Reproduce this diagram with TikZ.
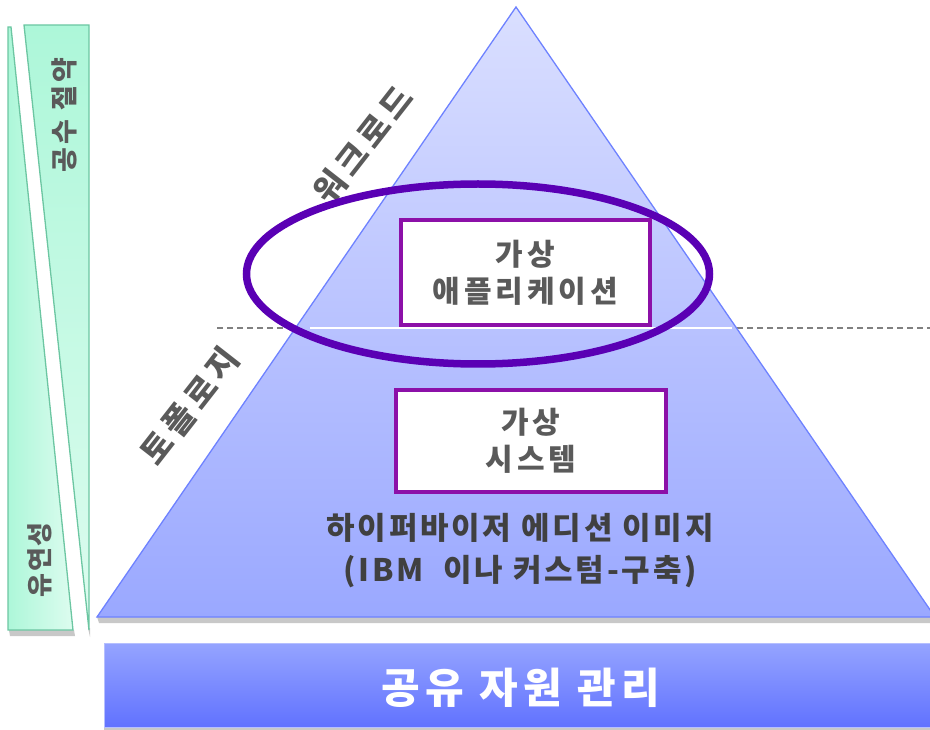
\documentclass[tikz,border=0pt]{standalone}
\usepackage{fontspec}
\setmainfont{Noto Sans CJK KR}
\usetikzlibrary{shapes.geometric}
\definecolor{txt}{HTML}{5A5A5A}
\definecolor{txtd}{HTML}{404040}
\definecolor{mintb}{HTML}{6CC6A2}
\definecolor{mintA}{HTML}{ADF7D9}
\definecolor{mintB}{HTML}{DDFCEF}
\definecolor{trib}{HTML}{6E82FF}
\definecolor{triA}{HTML}{DADFFF}
\definecolor{triB}{HTML}{9AA8FF}
\definecolor{barA}{HTML}{95A4FF}
\definecolor{barB}{HTML}{6172FF}
\definecolor{boxb}{HTML}{8C10A8}
\definecolor{ellc}{HTML}{5A00B4}
\definecolor{shd}{HTML}{C8C8C8}
\tikzset{
  shape shadow/.style={fill=shd},
  mintshape/.style={draw=mintb, line width=1.3},
  vbox/.style={draw=boxb, line width=4, fill=white, rectangle, inner sep=0, align=center,
    text=txt, font=\bfseries\fontsize{30}{37}\selectfont\addfontfeatures{LetterSpace=13}},
  slant/.style={text=txt, font=\bfseries\fontsize{33}{33}\selectfont\addfontfeatures{LetterSpace=15}, rotate=52, inner sep=0},
  side/.style={text=txt, font=\bfseries\fontsize{27}{27}\selectfont\addfontfeatures{LetterSpace=12}, rotate=90, inner sep=0},
}
\begin{document}
\begin{tikzpicture}[x=1pt,y=-1pt]
\useasboundingbox (0,0) rectangle (930,730);
% left shapes
\fill[shape shadow] (9,630) -- (74,630) -- (75,636) -- (10,636) -- cycle;
\path[mintshape, left color=mintA, right color=mintB] (8,27) -- (11,27) -- (73,630) -- (8,630) -- cycle;
\fill[shape shadow] (88,628) -- (90,628) -- (90,637) -- cycle;
\path[mintshape, top color=mintA, bottom color=mintB] (24,25) -- (89,25) -- (89,630) -- cycle;
\node[side] (t1) at (64,115) {공수 절약};
\node[side, font=\bfseries\fontsize{26}{26}\selectfont\addfontfeatures{LetterSpace=5}] (t2) at (40,560) {유연성};
% dashed level line
\coordinate (dl) at (217,328);
\coordinate (dr) at (930,328);
\draw[gray, line width=1.3, dash pattern=on 6pt off 4pt] (dl) -- (dr);
% triangle
\fill[shape shadow] (97,617) -- (935,617) -- (937,623) -- (99,623) -- cycle;
\path[draw=trib, line width=1.3, top color=triA, bottom color=triB] (516,7) -- (935,617) -- (97,617) -- cycle;
\coordinate (wl) at (310,328);
\coordinate (wr) at (732,328);
\draw[white, line width=2.5] (wl) -- (wr);
% bottom bar
\fill[shape shadow] (104,727) rectangle (935,731);
\path[draw=barA!70!white, line width=1, top color=barA, bottom color=barB] (104,643) rectangle (935,727);
\node[text=white, font=\bfseries\fontsize{42}{42}\selectfont\addfontfeatures{LetterSpace=13}] (bar) at (521,688) {공유 자원 관리};
% slanted labels
\node[slant] (wk) at (363,145) {워크로드};
\node[slant] (tp) at (190,406) {토폴로지};
% ellipse
\node[draw=ellc, line width=7.5, ellipse, inner sep=0, minimum width=463, minimum height=180] (ell) at (478,274) {};
% boxes
\node[vbox, minimum width=249, minimum height=105] (app) at (525.5,272.5) {가상\\애플리케이션};
\node[vbox, minimum width=270, minimum height=102] (sys) at (531,441) {가상\\시스템};
\node[text=txtd, align=center, font=\bfseries\fontsize{31}{42}\selectfont\addfontfeatures{LetterSpace=9}] (hyp) at (520,551) {하이퍼바이저 에디션 이미지\\(IBM~ 이나 커스텀-구축)};
\end{tikzpicture}
\end{document}
